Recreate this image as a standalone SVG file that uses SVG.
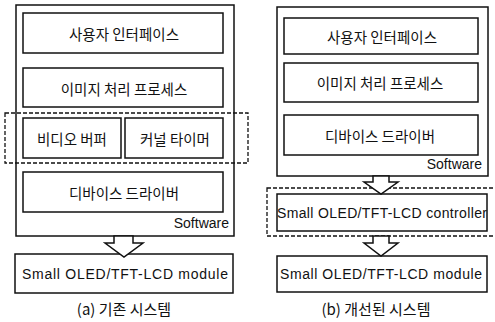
<svg xmlns="http://www.w3.org/2000/svg" width="495" height="322" viewBox="0 0 495 322">
<style>
.box{fill:none;stroke:#111;stroke-width:1.5}
.dash{fill:none;stroke:#111;stroke-width:1.3;stroke-dasharray:4 2}
.arrow{fill:#fff;stroke:#111;stroke-width:1.5;stroke-linejoin:miter}
.ko{font-family:"Noto Sans CJK KR","Noto Sans",sans-serif;font-size:14.5px;fill:#111;text-anchor:middle;dominant-baseline:central}
.en{font-family:"Liberation Sans","Noto Sans",sans-serif;font-size:14px;fill:#111;text-anchor:middle;dominant-baseline:central}
.sw{font-family:"Liberation Sans",sans-serif;font-size:14px;fill:#111;text-anchor:end}
.cap{font-family:"Noto Sans CJK KR","Liberation Sans",sans-serif;font-size:15px;fill:#111;text-anchor:middle}
</style>
<rect width="495" height="322" fill="#fff"/>
<g id="panel-a">
  <g id="a-software"><rect class="box" x="16" y="5" width="218" height="231"/><text class="sw" x="229" y="228">Software</text></g>
  <g id="a-ui"><rect class="box" x="23" y="13" width="200" height="40"/><text class="ko" x="124" y="33">사용자 인터페이스</text></g>
  <g id="a-img"><rect class="box" x="23" y="68" width="200" height="39"/><text class="ko" x="124" y="88">이미지 처리 프로세스</text></g>
  <g id="a-group"><rect class="dash" x="5" y="113" width="243" height="50"/></g>
  <g id="a-vbuf"><rect class="box" x="23" y="118" width="98" height="40"/><text class="ko" x="72" y="138">비디오 버퍼</text></g>
  <g id="a-timer"><rect class="box" x="125" y="118" width="98" height="40"/><text class="ko" x="175" y="138">커널 타이머</text></g>
  <g id="a-driver"><rect class="box" x="23" y="172" width="200" height="40"/><text class="ko" x="124" y="192">디바이스 드라이버</text></g>
  <g id="a-module"><rect class="box" x="15" y="254" width="218" height="39"/><text class="en" x="125" y="274" textLength="206">Small OLED/TFT-LCD module</text></g>
  <text class="cap" x="124" y="315">(a) 기존 시스템</text>
</g>
<g id="panel-b">
  <g id="b-software"><rect class="box" x="277" y="7" width="211" height="169"/><text class="sw" x="482" y="169">Software</text></g>
  <g id="b-ui"><rect class="box" x="284" y="18" width="194" height="36"/><text class="ko" x="382" y="36">사용자 인터페이스</text></g>
  <g id="b-img"><rect class="box" x="284" y="63" width="194" height="39"/><text class="ko" x="380" y="82">이미지 처리 프로세스</text></g>
  <g id="b-driver"><rect class="box" x="284" y="115" width="194" height="40"/><text class="ko" x="380" y="135">디바이스 드라이버</text></g>
  <g id="b-group"><rect class="dash" x="267" y="188" width="230" height="48"/></g>
  <g id="b-controller"><rect class="box" x="277" y="194" width="210" height="37"/><text class="en" x="382" y="213" textLength="210">Small OLED/TFT-LCD controller</text></g>
  <g id="b-module"><rect class="box" x="277" y="256" width="210" height="36"/><text class="en" x="381" y="274" textLength="202">Small OLED/TFT-LCD module</text></g>
  <text class="cap" x="376" y="315">(b) 개선된 시스템</text>
</g>
<g id="connectors">
  <path class="arrow" d="M114,236 L133,236 L133,243 L143,243 L124,257 L105,243 L114,243 Z"/>
  <path class="arrow" d="M373,176 L389,176 L389,182 L398,182 L381,194 L364,182 L373,182 Z"/>
  <path class="arrow" d="M373,236 L389,236 L389,243 L398,243 L381,256 L364,243 L373,243 Z"/>
</g>
</svg>
